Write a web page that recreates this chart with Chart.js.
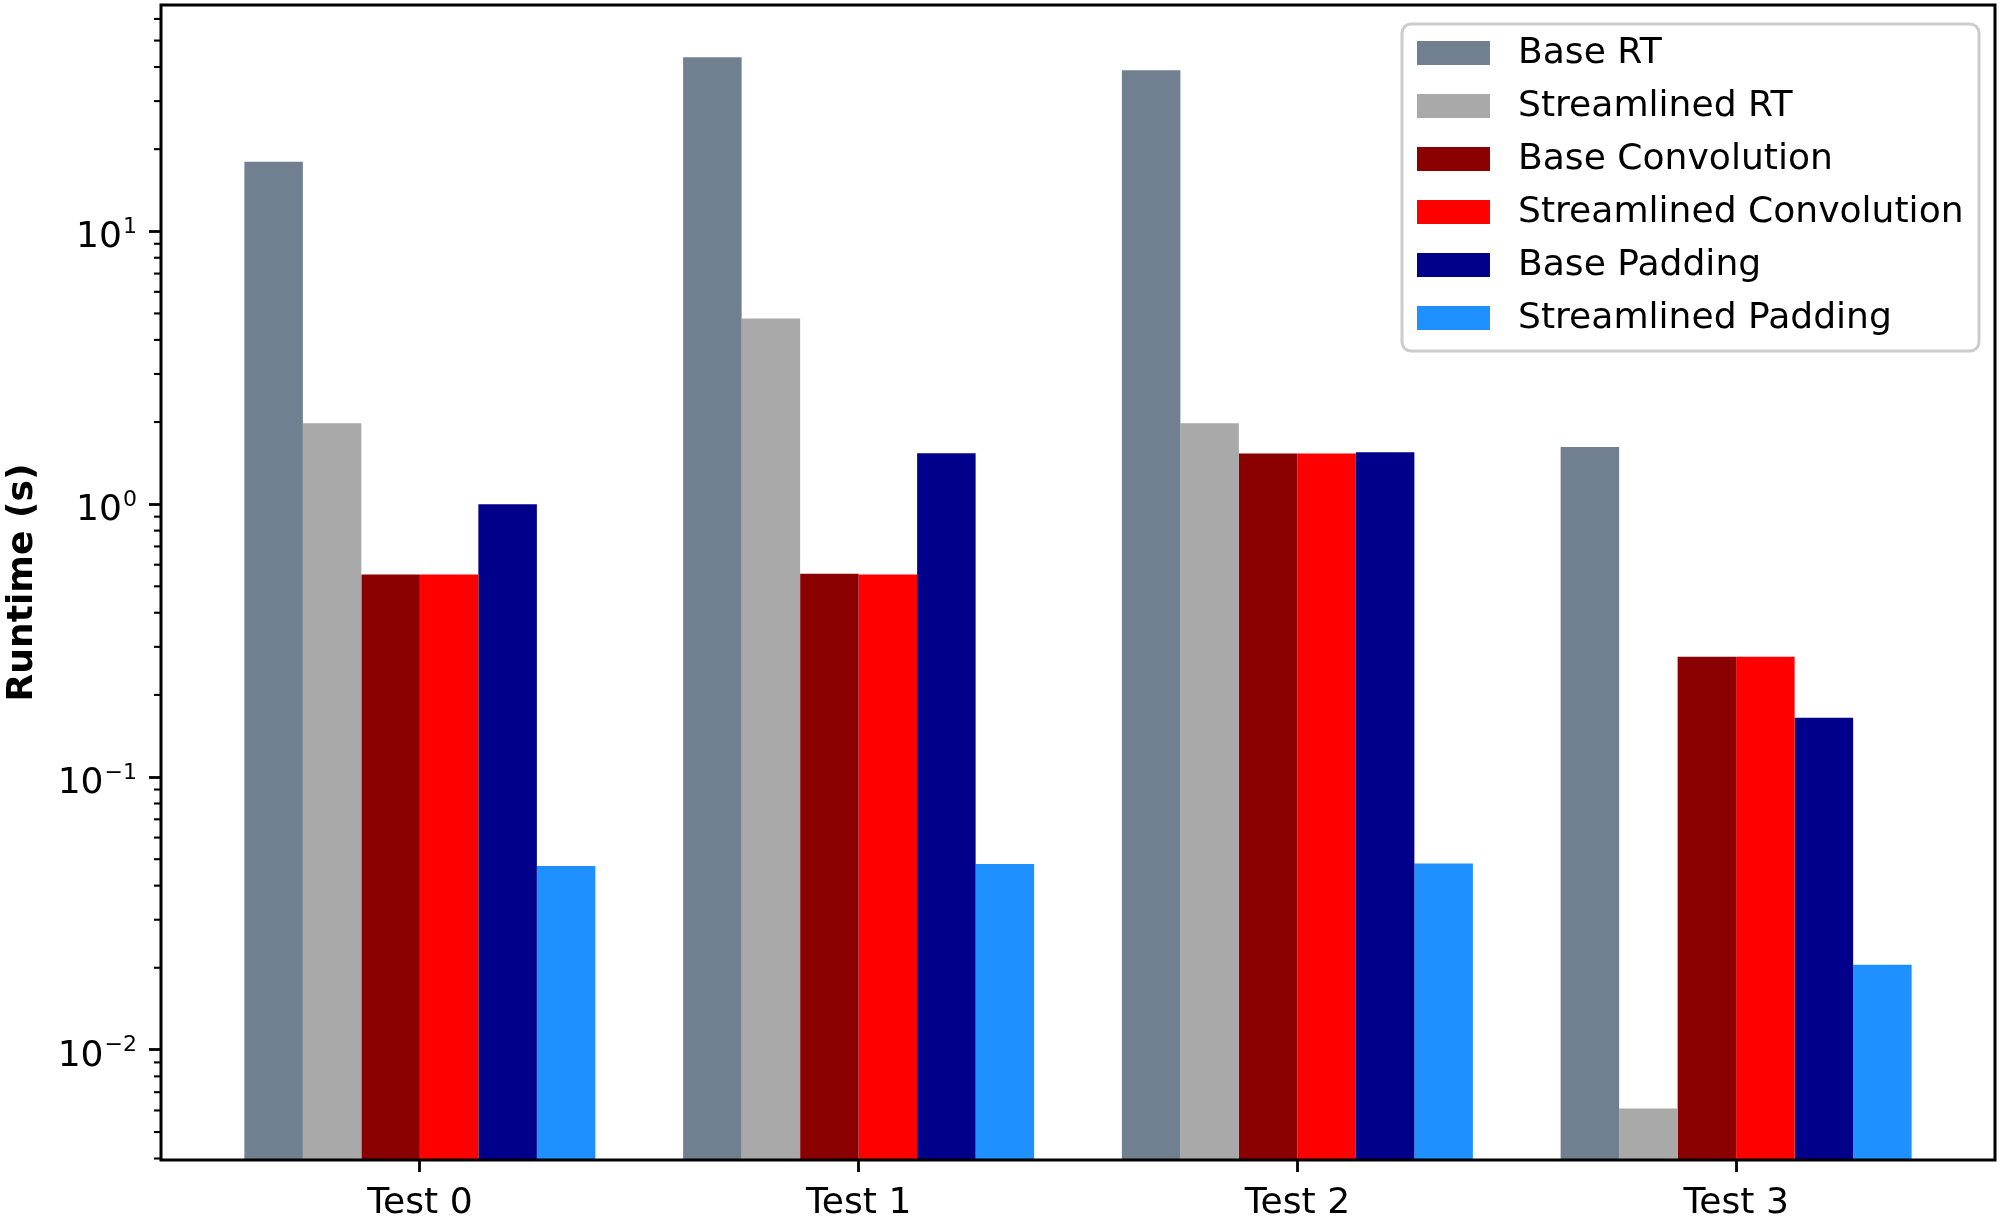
<!DOCTYPE html>
<html>
<head>
<meta charset="utf-8">
<script src="https://cdn.jsdelivr.net/npm/chart.js@4.4.1/dist/chart.umd.min.js"></script>
<style>
html,body{margin:0;padding:0;background:#ffffff;}
#wrap{width:2000px;height:1217px;}
</style>
</head>
<body>
<div id="wrap"><canvas id="c" width="2000" height="1217"></canvas></div>
<script>
// ---- data ----
const categories = ['Test 0', 'Test 1', 'Test 2', 'Test 3'];
const seriesNames = ['Base RT', 'Streamlined RT', 'Base Convolution', 'Streamlined Convolution', 'Base Padding', 'Streamlined Padding'];
const baseRT = [18.0, 43.4, 38.9, 1.62];
const streamlinedRT = [1.98, 4.79, 1.98, 0.0061];
const baseConvolution = [0.553, 0.556, 1.534, 0.276];
const streamlinedConvolution = [0.553, 0.553, 1.534, 0.276];
const basePadding = [1.0, 1.538, 1.551, 0.165];
const streamlinedPadding = [0.0472, 0.0480, 0.0482, 0.0205];
const yMajorTicks = [0.01, 0.1, 1, 10];
const yTickBase = '10';
const yTickExponents = ['\u22122', '\u22121', '0', '1'];
const yMin = 0.00395, yMax = 67.5;
const xMin = -0.59, xMax = 3.59;
const colors = ['#708090', '#A9A9A9', '#8B0000', '#FF0000', '#00008B', '#1E90FF'];

const allSeries = [baseRT, streamlinedRT, baseConvolution, streamlinedConvolution, basePadding, streamlinedPadding];
const FS = 36.1;
const SUPFS = 22;
const FONT = 'DejaVu Sans';

function majorIndex(v) {
  return yMajorTicks.findIndex(m => Math.abs(Math.log10(v) - Math.log10(m)) < 1e-9);
}

const framePlugin = {
  id: 'frame',
  afterDatasetsDraw(chart) {
    const ctx = chart.ctx, a = chart.chartArea;
    const ys = chart.scales.y;
    ctx.save();
    // minor ticks on y axis
    ctx.strokeStyle = '#000';
    ctx.lineWidth = 2.1;
    ys.ticks.forEach(t => {
      if (majorIndex(t.value) >= 0) return;
      const py = ys.getPixelForValue(t.value);
      ctx.beginPath();
      ctx.moveTo(a.left - 7, py);
      ctx.lineTo(a.left, py);
      ctx.stroke();
    });
    // y tick labels with superscript exponents (10^n)
    const xEnd = a.left - 24;
    ctx.fillStyle = '#000';
    ctx.textAlign = 'right';
    ctx.textBaseline = 'alphabetic';
    yMajorTicks.forEach((m, i) => {
      const py = ys.getPixelForValue(m);
      ctx.font = SUPFS + 'px "' + FONT + '"';
      const we = ctx.measureText(yTickExponents[i]).width;
      ctx.fillText(yTickExponents[i], xEnd, py + 1.5);
      ctx.font = FS + 'px "' + FONT + '"';
      ctx.fillText(yTickBase, xEnd - we - 1, py + 16);
    });
    // frame
    ctx.lineWidth = 3;
    ctx.strokeRect(a.left, a.top, a.right - a.left, a.bottom - a.top);
    ctx.restore();
  }
};

const legendPlugin = {
  id: 'boxLegend',
  afterDraw(chart) {
    const ctx = chart.ctx, a = chart.chartArea;
    const w = 577, h = 327;
    const x = a.right - 16 - w, y = a.top + 19;
    ctx.save();
    ctx.fillStyle = 'rgba(255,255,255,0.8)';
    ctx.strokeStyle = '#cccccc';
    ctx.lineWidth = 3;
    ctx.beginPath();
    ctx.roundRect(x, y, w, h, 9);
    ctx.fill();
    ctx.stroke();
    chart.data.datasets.forEach((ds, i) => {
      const cy = y + 29 + i * 53;
      ctx.fillStyle = ds.backgroundColor;
      ctx.fillRect(x + 15, cy - 12, 73, 24);
      ctx.fillStyle = '#000';
      ctx.font = FS + 'px "' + FONT + '"';
      ctx.textBaseline = 'middle';
      ctx.textAlign = 'left';
      ctx.fillText(ds.label, x + 116, cy + 1);
    });
    ctx.restore();
  }
};

const datasets = seriesNames.map((name, k) => ({
  label: name,
  data: allSeries[k].map((v, i) => ({ x: i, y: v })),
  backgroundColor: colors[k],
  borderWidth: 0,
  categoryPercentage: 0.8,
  barPercentage: 1.0
}));

function zeroPad(s) { s.paddingTop = 0; s.paddingBottom = 0; s.paddingLeft = 0; s.paddingRight = 0; }

new Chart(document.getElementById('c'), {
  type: 'bar',
  data: { datasets },
  options: {
    responsive: false,
    animation: false,
    devicePixelRatio: 1,
    layout: { padding: { left: 0, right: 5, top: 5, bottom: 0 } },
    plugins: { legend: { display: false }, tooltip: { enabled: false } },
    scales: {
      x: {
        type: 'linear',
        min: xMin,
        max: xMax,
        offset: false,
        afterBuildTicks: s => { s.ticks = categories.map((c, i) => ({ value: i })); },
        afterFit: s => { s.height = 57; zeroPad(s); },
        ticks: {
          autoSkip: false,
          maxRotation: 0,
          padding: 10,
          color: '#000',
          font: { family: FONT, size: FS },
          callback: v => categories[v]
        },
        grid: { offset: false, drawOnChartArea: false, drawTicks: true, tickLength: 12, tickWidth: 2.8, tickColor: '#000' },
        border: { display: false }
      },
      y: {
        type: 'logarithmic',
        min: yMin,
        max: yMax,
        afterBuildTicks: s => {
          const t = [];
          for (let e = -3; e <= 1; e++) {
            for (let m = 1; m <= 9; m++) {
              const v = m * Math.pow(10, e);
              if (v >= yMin && v <= yMax) t.push({ value: v, major: m === 1 });
            }
          }
          s.ticks = t;
        },
        afterFit: s => { s.width = 161; zeroPad(s); },
        ticks: {
          autoSkip: false,
          padding: 12,
          color: '#000',
          font: { family: FONT, size: FS },
          callback: () => ''
        },
        grid: {
          drawOnChartArea: false,
          drawTicks: true,
          tickLength: 12,
          tickWidth: 2.8,
          tickColor: c => (c.tick && majorIndex(c.tick.value) >= 0) ? '#000' : 'rgba(0,0,0,0)'
        },
        border: { display: false },
        title: {
          display: true,
          text: 'Runtime (s)',
          color: '#000',
          padding: 0,
          font: { family: FONT, size: FS, weight: 'bold', lineHeight: 1.25 }
        }
      }
    }
  },
  plugins: [framePlugin, legendPlugin]
});
</script>
</body>
</html>
